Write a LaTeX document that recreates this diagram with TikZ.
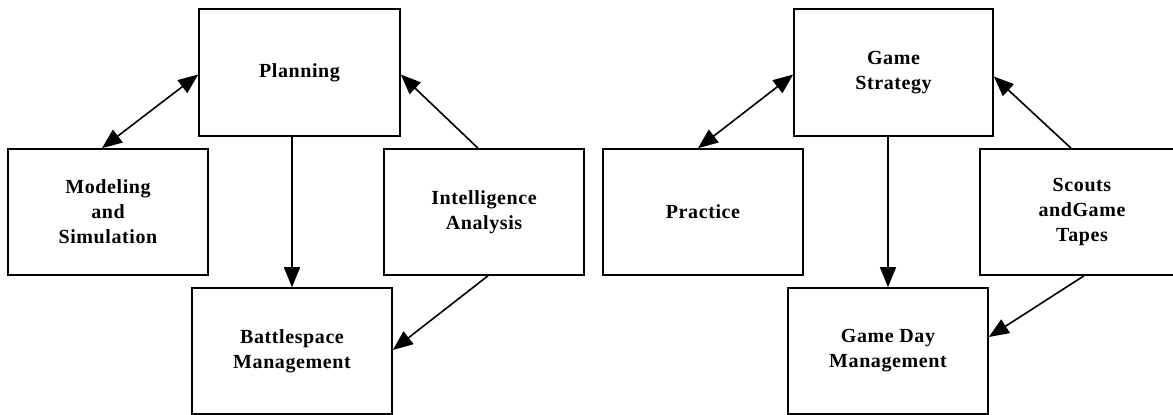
\documentclass[tikz,border=0pt]{standalone}
\usepackage{fontspec}
\setmainfont{Liberation Serif}[LetterSpace=3]
\usetikzlibrary{arrows.meta,positioning,calc}

\tikzset{
  box/.style={draw, line width=1.6pt, minimum width=200pt, minimum height=126pt,
    inner sep=0pt, align=center, font=\fontsize{20}{25}\selectfont\bfseries},
  link/.style={line width=1.6pt, -{Triangle[length=20pt,width=16pt]}},
  duallink/.style={line width=1.6pt, {Triangle[length=20pt,width=16pt]}-{Triangle[length=20pt,width=16pt]}}
}

\begin{document}
\begin{tikzpicture}[x=1pt,y=-1pt]
\useasboundingbox (0,0) rectangle (1173,415);

% Military side
\node[box, minimum width=201pt, minimum height=127pt] (plan) at (299.5,72.5) {Planning};
\node[box] (model) at (108,212) {Modeling\\and\\Simulation};
\node[box] (intel) at (484,212) {Intelligence\\Analysis};
\node[box] (battle) at (292,351) {Battlespace\\Management};

% Football side
\node[box, minimum width=199pt, minimum height=127pt] (strat) at (893.5,72.5) {Game\\Strategy};
\node[box] (practice) at (703,212) {Practice};
\node[box, minimum width=204pt] (scouts) at (1082,212) {Scouts\\andGame\\Tapes};
\node[box] (gameday) at (888,351) {Game Day\\Management};

% Arrows
\draw[duallink] ([xshift=-6pt]model.north) -- ([yshift=-2pt]plan.west);
\draw[link] (battle.north |- plan.south) -- (battle.north);
\draw[link] ([xshift=-6pt]intel.north) -- ([yshift=-2pt]plan.east);
\draw[link] ([xshift=4pt]intel.south) -- ([yshift=1pt]battle.east);

\draw[duallink] ([xshift=-5pt]practice.north) -- ([yshift=-2pt]strat.west);
\draw[link] (gameday.north |- strat.south) -- (gameday.north);
\draw[link] ([xshift=-11pt]scouts.north) -- ([yshift=-4pt]strat.east);
\draw[link] ([xshift=2pt]scouts.south) -- ([yshift=14pt]gameday.east);

\end{tikzpicture}
\end{document}
